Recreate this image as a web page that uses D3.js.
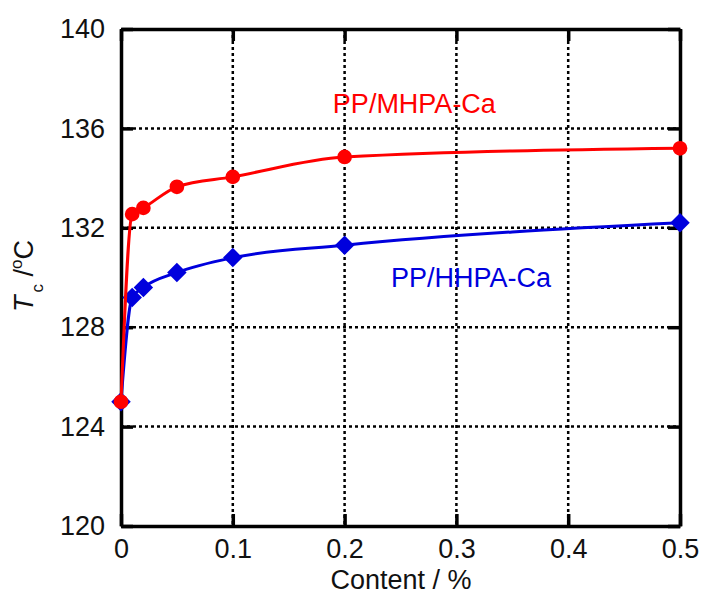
<!DOCTYPE html>
<html>
<head>
<meta charset="utf-8">
<script src="https://cdn.jsdelivr.net/npm/d3@7"></script>
<style>
  body { margin: 0; background: #fff; }
  svg { display: block; font-family: Arial, "Liberation Sans", sans-serif; }
</style>
</head>
<body>
<svg id="chart" width="701" height="597"></svg>
<script>
// Crystallization temperature vs nucleating agent content
const content = [0, 0.01, 0.02, 0.05, 0.1, 0.2, 0.5];
const mhpaCa = [125.0, 132.55, 132.8, 133.65, 134.05, 134.85, 135.2];
const hhpaCa = [125.0, 129.2, 129.6, 130.2, 130.8, 131.3, 132.2];
const xTicks = [0, 0.1, 0.2, 0.3, 0.4, 0.5];
const yTicks = [120, 124, 128, 132, 136, 140];

const margin = { left: 121, top: 29, right: 21, bottom: 71 };
const W = 701, H = 597;
const iw = W - margin.left - margin.right;
const ih = H - margin.top - margin.bottom;
const FONT = "Arial, 'Liberation Sans', sans-serif";
const FS = 27;

const svg = d3.select("#chart");
const g = svg.append("g").attr("transform", `translate(${margin.left},${margin.top})`);

const x = d3.scaleLinear().domain([0, 0.5]).range([0, iw]);
const y = d3.scaleLinear().domain([120, 140]).range([ih, 0]);

// dotted grid
g.append("g").selectAll("line").data(xTicks.slice(1, -1)).join("line")
  .attr("x1", d => x(d)).attr("x2", d => x(d)).attr("y1", 0).attr("y2", ih)
  .attr("stroke", "#000").attr("stroke-width", 2.5).attr("stroke-dasharray", "3,3");
g.append("g").selectAll("line").data(yTicks.slice(1, -1)).join("line")
  .attr("y1", d => y(d)).attr("y2", d => y(d)).attr("x1", 0).attr("x2", iw)
  .attr("stroke", "#000").attr("stroke-width", 2.5).attr("stroke-dasharray", "3,3");

// axes with inward ticks
const axisStyle = sel => {
  sel.attr("font-family", FONT).attr("font-size", FS);
  sel.select(".domain").attr("stroke", "#000").attr("stroke-width", 3.5);
  sel.selectAll(".tick line").attr("stroke", "#000").attr("stroke-width", 3.5);
  sel.selectAll(".tick text").attr("fill", "#111");
};
g.append("g").attr("transform", `translate(0,${ih})`)
  .call(d3.axisBottom(x).tickValues(xTicks).tickSize(-12).tickSizeOuter(0).tickPadding(13).tickFormat(d => d === 0 ? "0" : d3.format(".1f")(d)))
  .call(axisStyle);
g.append("g")
  .call(d3.axisTop(x).tickValues(xTicks).tickSize(-12).tickSizeOuter(0).tickFormat(""))
  .call(axisStyle);
g.append("g")
  .call(d3.axisLeft(y).tickValues(yTicks).tickSize(-12).tickSizeOuter(0).tickPadding(16))
  .call(axisStyle);
g.append("g").attr("transform", `translate(${iw},0)`)
  .call(d3.axisRight(y).tickValues(yTicks).tickSize(-12).tickSizeOuter(0).tickFormat(""))
  .call(axisStyle);

// series
const series = [
  { name: "PP/MHPA-Ca", values: mhpaCa, color: "#ff0000", marker: d3.symbolCircle, size: 170, rot: 0, lx: 0.1895, ly: 136.62 },
  { name: "PP/HHPA-Ca", values: hhpaCa, color: "#0000dd", marker: d3.symbolSquare, size: 190, rot: 45, lx: 0.2415, ly: 129.6 }
];

const line = d3.line().x(d => x(d[0])).y(d => y(d[1])).curve(d3.curveMonotoneX);

// blue first so red sits on top at the shared origin point
[series[1], series[0]].forEach(s => {
  const pts = content.map((c, i) => [c, s.values[i]]);
  g.append("path").datum(pts).attr("d", line)
    .attr("fill", "none").attr("stroke", s.color).attr("stroke-width", 3);
  g.append("g").selectAll("path").data(pts).join("path")
    .attr("transform", d => `translate(${x(d[0])},${y(d[1])}) rotate(${s.rot})`)
    .attr("d", d3.symbol().type(s.marker).size(s.size))
    .attr("fill", s.color);
});

series.forEach(s => {
  g.append("text").attr("x", x(s.lx)).attr("y", y(s.ly))
    .attr("font-size", FS).attr("fill", s.color).text(s.name);
});

// axis titles
svg.append("text").attr("x", 401).attr("y", 589)
  .attr("text-anchor", "middle").attr("font-size", FS)
  .attr("fill", "#111").text("Content / %");

const yt = svg.append("text")
  .attr("transform", `translate(33,276) rotate(-90)`)
  .attr("text-anchor", "middle").attr("font-size", FS).attr("fill", "#111");
yt.append("tspan").attr("font-style", "italic").text("T");
yt.append("tspan").attr("font-size", 17).attr("dy", 10).attr("dx", 3).text("c");
yt.append("tspan").attr("dy", -10).text(" /");
yt.append("tspan").attr("font-size", 17).attr("dy", -11).text("o");
yt.append("tspan").attr("dy", 11).text("C");
</script>
</body>
</html>
